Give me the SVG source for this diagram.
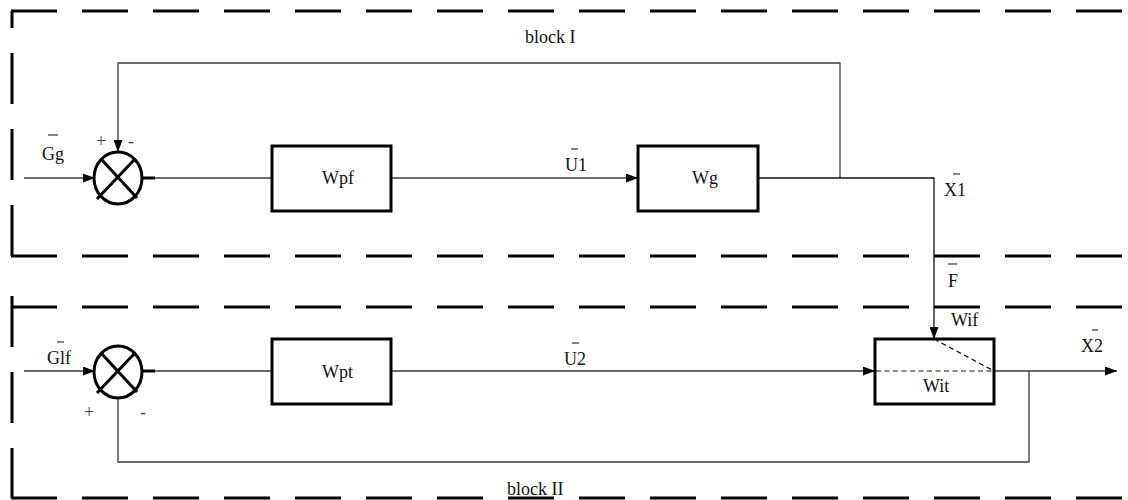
<svg xmlns="http://www.w3.org/2000/svg" width="1128" height="500" viewBox="0 0 1128 500">
  <style>
    .border-h { fill: none; stroke: #000; stroke-width: 3; stroke-dasharray: 46 25; }
    .border-v { fill: none; stroke: #000; stroke-width: 3; stroke-dasharray: 51 25; }
    .wire { fill: none; stroke: #3a3a3a; stroke-width: 1.3; }
    .wire-dark { fill: none; stroke: #111; stroke-width: 1.3; }
    .block { fill: #fff; stroke: #000; stroke-width: 3; }
    .sum { fill: #fff; stroke: #000; stroke-width: 3; }
    .thick { stroke: #000; stroke-width: 3; fill: none; }
    .inner-dash { fill: none; stroke: #111; stroke-width: 1.2; stroke-dasharray: 5 3.5; }
    .bar { stroke: #333; stroke-width: 1.2; }
    text { font-family: "Liberation Serif", "Times New Roman", serif; font-size: 18px; fill: #111; }
    .sign { fill: #444; }
  </style>
  <defs>
    <marker id="arrow" markerUnits="userSpaceOnUse" markerWidth="12" markerHeight="9" refX="12" refY="4.5" orient="auto">
      <path d="M0,0 L12,4.5 L0,9 Z" fill="#000"/>
    </marker>
  </defs>

  <!-- dashed frames around the two subsystems -->
  <g id="block-I-frame">
    <path class="border-h" d="M11,11 H1128"/>
    <path class="border-v" d="M12,256 V11"/>
    <path class="border-h" d="M11,256 H1128"/>
    <text x="525" y="43">block I</text>
  </g>
  <g id="block-II-frame">
    <path class="border-h" d="M11,307 H1128"/>
    <path class="border-v" d="M12,296 V498"/>
    <path class="border-h" d="M11,498 H1128"/>
    <text x="507" y="495">block II</text>
  </g>

  <!-- signal connectors -->
  <g id="connectors">
    <path class="wire" d="M24,178 H95" marker-end="url(#arrow)"/>
    <path class="wire" d="M840,178 V63 H118 V152" marker-end="url(#arrow)"/>
    <path class="wire" d="M155,178 H272"/>
    <path class="wire" d="M391,178 H638" marker-end="url(#arrow)"/>
    <path class="wire-dark" d="M758,178 H934 V339" marker-end="url(#arrow)"/>
    <path class="wire" d="M24,371 H95" marker-end="url(#arrow)"/>
    <path class="wire" d="M155,371 H272"/>
    <path class="wire" d="M391,371 H875" marker-end="url(#arrow)"/>
    <path class="wire" d="M994,371 H1117" marker-end="url(#arrow)"/>
    <path class="wire" d="M1029,371 V462 H118 V398"/>
  </g>

  <!-- upper summing junction -->
  <g id="sum1">
    <ellipse class="sum" cx="118" cy="178" rx="24" ry="26"/>
    <path class="thick" d="M102,160 L137,198 M134,160 L97,199"/>
    <path class="thick" d="M142,178 H155"/>
    <text class="sign" x="96" y="147">+</text>
    <text class="sign" x="128" y="147">-</text>
  </g>

  <!-- lower summing junction -->
  <g id="sum2">
    <ellipse class="sum" cx="118" cy="372" rx="24" ry="26"/>
    <path class="thick" d="M102,354 L137,392 M134,354 L97,393"/>
    <path class="thick" d="M142,371 H155"/>
    <text class="sign" x="84" y="418">+</text>
    <text class="sign" x="140" y="418">-</text>
  </g>

  <g id="Wpf">
    <rect class="block" x="272" y="146" width="119" height="65"/>
    <text x="322" y="184">Wpf</text>
  </g>

  <g id="Wg">
    <rect class="block" x="638" y="146" width="120" height="65"/>
    <text x="692" y="184">Wg</text>
  </g>

  <g id="Wpt">
    <rect class="block" x="272" y="339" width="119" height="65"/>
    <text x="322" y="378">Wpt</text>
  </g>

  <g id="Wit">
    <rect class="block" x="875" y="339" width="119" height="65"/>
    <path class="inner-dash" d="M876,371 H993"/>
    <path class="inner-dash" d="M934,339 L994,371"/>
    <text x="923" y="392">Wit</text>
    <text x="951" y="326">Wif</text>
  </g>

  <!-- signal labels with overbars -->
  <g id="labels">
    <text x="42" y="160">Gg</text>
    <line class="bar" x1="48" y1="135" x2="58" y2="135"/>
    <text x="565" y="171">U1</text>
    <line class="bar" x1="571" y1="149" x2="578" y2="149"/>
    <text x="944" y="196">X1</text>
    <line class="bar" x1="953" y1="174" x2="960" y2="174"/>
    <text x="948" y="287">F</text>
    <line class="bar" x1="948" y1="264" x2="957" y2="264"/>
    <text x="47" y="364">Glf</text>
    <line class="bar" x1="57" y1="342" x2="64" y2="342"/>
    <text x="564" y="365">U2</text>
    <line class="bar" x1="572" y1="343" x2="579" y2="343"/>
    <text x="1081" y="352">X2</text>
    <line class="bar" x1="1092" y1="330" x2="1098" y2="330"/>
  </g>
</svg>
